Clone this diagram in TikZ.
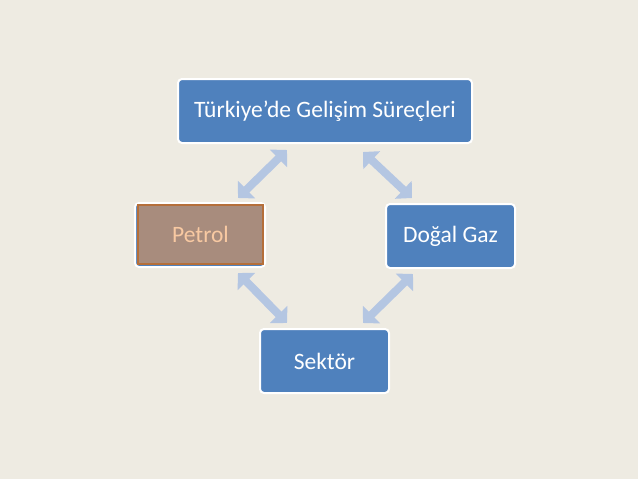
\documentclass[tikz,border=0pt]{standalone}
\usepackage{fontspec}
\setmainfont{Carlito}
\usetikzlibrary{arrows.meta}
\definecolor{bg}{HTML}{EEEBE2}
\definecolor{boxblue}{HTML}{4F81BD}
\definecolor{arrowblue}{HTML}{B4C6E2}
\definecolor{petfill}{HTML}{A88C7D}
\definecolor{petdraw}{HTML}{B56F3A}
\definecolor{pettext}{HTML}{F8C9A2}
\begin{document}
\begin{tikzpicture}[x=1pt,y=-1pt,
  bluebox/.style={draw=white,line width=2pt,fill=boxblue,rounded corners=4pt,
    text=white,font=\fontsize{23.5}{28}\selectfont,inner sep=0pt},
  dblarrow/.style={draw=arrowblue,line width=8pt,
    {Triangle[width=20pt,length=12pt,angle'=90]}-{Triangle[width=20pt,length=12pt,angle'=90]},
    shorten <=0pt,shorten >=0pt}]
\fill[bg] (0,0) rectangle (638,479);
\useasboundingbox (0,0) rectangle (638,479);
% boxes
\node[bluebox,minimum width=294pt,minimum height=64pt] (top) at (325,111) {Türkiye’de Gelişim Süreçleri};
\node[bluebox,minimum width=129pt,minimum height=64pt] (gaz) at (450.5,236) {Doğal Gaz};
\node[bluebox,minimum width=129pt,minimum height=64pt] (sek) at (324.5,361) {Sektör};
\node[draw=white,line width=2pt,fill=boxblue,rounded corners=4pt,minimum width=130pt,minimum height=64pt,inner sep=0pt] (petout) at (200,235) {};
\node[draw=petdraw,line width=2pt,fill=petfill,minimum width=125pt,minimum height=59pt,inner sep=0pt,
  text=pettext,font=\fontsize{23.5}{28}\selectfont] (pet) at (200.5,234.5) {Petrol};
% arrow anchors
\coordinate (a1) at (287,150); \coordinate (a2) at (238,198);
\coordinate (b1) at (363,152); \coordinate (b2) at (412,198);
\coordinate (c1) at (238,273); \coordinate (c2) at (287,323);
\coordinate (d1) at (413,274); \coordinate (d2) at (363,323);
\draw[dblarrow] (a1) -- (a2);
\draw[dblarrow] (b1) -- (b2);
\draw[dblarrow] (c1) -- (c2);
\draw[dblarrow] (d1) -- (d2);
\end{tikzpicture}
\end{document}
